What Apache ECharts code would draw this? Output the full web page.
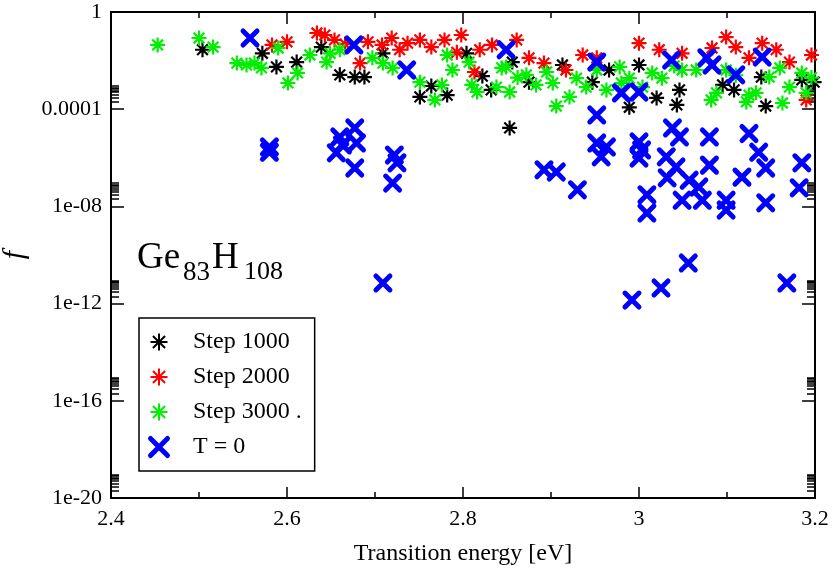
<!DOCTYPE html>
<html>
<head>
<meta charset="utf-8">
<script src="https://cdn.jsdelivr.net/npm/echarts@6/dist/echarts.min.js"></script>
<style>
html, body { margin: 0; padding: 0; background: #fff; }
#chart { width: 833px; height: 573px; }
</style>
</head>
<body>
<div id="chart"></div>
<script>
// transition energies (eV) and oscillator strengths f
var step1000X = [2.504, 2.572, 2.588, 2.611, 2.639, 2.660, 2.677, 2.688, 2.709, 2.751, 2.764, 2.782, 2.804, 2.822, 2.832, 2.853, 2.856, 2.875, 2.913, 2.947, 2.966, 2.989, 3.000, 3.020, 3.046, 3.043, 3.095, 3.108, 3.139, 3.144, 3.185, 3.199];
var step1000F = [2.8e-2, 2.0e-2, 5.5e-3, 8.7e-3, 3.6e-2, 2.6e-3, 2.1e-3, 2.1e-3, 2.0e-2, 3.2e-4, 9.0e-4, 3.8e-4, 2.0e-2, 2.3e-3, 6.2e-4, 1.7e-5, 8.7e-3, 1.3e-3, 6.6e-3, 1.3e-3, 4.1e-3, 1.2e-4, 6.6e-3, 2.9e-4, 6.2e-4, 1.5e-4, 1.0e-3, 6.2e-4, 2.1e-3, 1.35e-4, 1.6e-3, 1.3e-3];

var step2000X = [2.583, 2.600, 2.634, 2.643, 2.654, 2.666, 2.683, 2.692, 2.708, 2.719, 2.728, 2.737, 2.751, 2.764, 2.779, 2.793, 2.798, 2.813, 2.819, 2.833, 2.861, 2.875, 2.892, 2.917, 2.936, 2.952, 3.000, 3.023, 3.049, 3.083, 3.099, 3.110, 3.125, 3.140, 3.156, 3.171, 3.196, 3.190];
var step2000F = [4.4e-2, 5.9e-2, 1.37e-1, 1.13e-1, 7.1e-2, 4.8e-2, 7.9e-3, 5.9e-2, 4.4e-2, 8.5e-2, 2.8e-2, 5.2e-2, 7.1e-2, 3.6e-2, 7.1e-2, 2.2e-2, 1.13e-1, 3.4e-3, 2.8e-2, 4.4e-2, 7.1e-2, 1.3e-2, 7.9e-3, 4.1e-3, 1.7e-2, 1.3e-2, 5.2e-2, 2.8e-2, 2.0e-2, 3.3e-2, 9.3e-2, 3.6e-2, 1.3e-2, 5.2e-2, 2.8e-2, 8.7e-3, 1.7e-2, 2.4e-4];

var step3000X = [2.453, 2.500, 2.516, 2.543, 2.554, 2.563, 2.571, 2.590, 2.601, 2.612, 2.626, 2.645, 2.649, 2.660, 2.697, 2.709, 2.720, 2.751, 2.768, 2.776, 2.782, 2.788, 2.807, 2.810, 2.816, 2.838, 2.844, 2.849, 2.853, 2.872, 2.883, 2.895, 2.902, 2.906, 2.921, 2.929, 2.940, 2.952, 2.963, 2.978, 2.989, 3.004, 3.015, 3.026, 3.049, 3.065, 3.082, 3.088, 3.099, 3.122, 3.125, 3.133, 3.148, 3.163, 3.171, 3.185, 3.190, 3.040, 3.110, 3.160, 3.196, 2.862, 2.980];
var step3000F = [4.4e-2, 8.5e-2, 3.6e-2, 7.9e-3, 6.6e-3, 7.9e-3, 5.0e-3, 3.3e-2, 1.2e-3, 3.1e-3, 1.7e-2, 8.7e-3, 2.0e-2, 2.8e-2, 1.3e-2, 7.9e-3, 5.0e-3, 1.3e-3, 2.4e-4, 1.0e-3, 1.7e-2, 4.1e-3, 8.7e-3, 1.0e-3, 5.1e-4, 8.1e-4, 5.0e-3, 5.5e-3, 5.1e-4, 2.6e-3, 1.0e-3, 3.4e-3, 1.2e-3, 1.35e-4, 3.2e-4, 1.9e-3, 8.1e-4, 4.1e-3, 6.2e-4, 5.5e-3, 1.9e-3, 8.1e-4, 3.1e-3, 1.9e-3, 4.1e-3, 4.1e-3, 2.4e-4, 4.7e-4, 4.1e-3, 2.0e-4, 3.8e-4, 4.7e-4, 2.1e-3, 1.8e-4, 8.1e-4, 3.1e-3, 4.7e-4, 6.0e-3, 2.5e-3, 5.0e-3, 2.0e-3, 2.0e-3, 1.2e-3];

var t0X = [2.558, 2.676, 2.736, 2.849, 2.952, 2.980, 3.000, 3.037, 3.077, 3.083, 3.110, 3.140,
  2.580, 2.580, 2.656, 2.660, 2.663, 2.677, 2.679, 2.677, 2.722, 2.725, 2.720, 2.709,
  2.892, 2.906, 2.930, 2.952, 2.952, 2.963, 2.957, 3.000, 3.003, 3.000, 3.009, 3.009,
  3.038, 3.046, 3.031, 3.042, 3.032, 3.057, 3.068, 3.049, 3.072, 3.080, 3.080, 3.099, 3.099,
  3.125, 3.136, 3.144, 3.117, 3.144, 3.185, 3.182,
  2.992, 3.025, 3.056, 3.168];
var t0F = [8.5e-2, 4.4e-2, 4.1e-3, 2.8e-2, 8.7e-3, 4.7e-4, 5.1e-4, 1.05e-2, 1.3e-2, 6.6e-3, 2.6e-3, 1.4e-2,
  2.8e-6, 1.7e-6, 1.6e-6, 7.2e-6, 3.4e-6, 1.7e-5, 4.1e-6, 3.8e-7, 1.3e-6, 6.2e-7, 9.1e-8, 7.1e-12,
  3.2e-7, 2.6e-7, 4.8e-8, 5.8e-5, 4.1e-6, 2.8e-6, 1.1e-6, 4.5e-6, 2.1e-6, 9.8e-7, 3.0e-8, 5.4e-9,
  1.7e-5, 7.2e-6, 1.1e-6, 4.2e-7, 1.5e-7, 1.2e-7, 6.3e-8, 1.8e-8, 1.8e-8, 7.2e-6, 5.0e-7, 1.8e-8, 7.1e-9,
  1.0e-5, 1.7e-6, 3.8e-7, 1.6e-7, 1.4e-8, 6.2e-7, 5.8e-8,
  1.4e-12, 4.4e-12, 4.7e-11, 7.1e-12];

var seriesNames = ['Step 1000', 'Step 2000', 'Step 3000 .', 'T = 0'];
var seriesColors = ['#000000', '#ff0000', '#00ee00', '#0000ff'];
var yTickValues = [1e-20, 1e-16, 1e-12, 1e-8, 1e-4, 1];

var FONT = "'Liberation Serif', 'Times New Roman', serif";
var STAR = 'path://M7 0L7 14M0 7L14 7M2 2L12 12M2 12L12 2';
var CROSS = 'path://M0 0L10 10M0 10L10 0';

function zip(xs, ys) {
  var out = [];
  for (var i = 0; i < xs.length; i++) out.push([xs[i], ys[i]]);
  return out;
}

function yLabel(v) {
  var e = Math.round(Math.log10(v));
  if (e === 0) return '1';
  if (e === -4) return '0.0001';
  var n = -e;
  return '1e-' + (n < 10 ? '0' + n : n);
}

function starSeries(idx, xs, ys) {
  return {
    name: seriesNames[idx],
    type: 'scatter',
    data: zip(xs, ys),
    symbol: STAR,
    symbolSize: 15,
    itemStyle: { color: 'rgba(0,0,0,0)', borderColor: seriesColors[idx], borderWidth: 2.2, opacity: 1 },
    emphasis: { disabled: true },
    z: 2 + idx
  };
}

// minor ticks (2..9 x 10^n) beside each labelled decade
var minorVals = [];
yTickValues.forEach(function (t) {
  if (t >= 1) return;
  for (var k = 2; k <= 9; k++) minorVals.push(k * t);
});

function tickAxis(pos, vals, len, showLabel) {
  return {
    type: 'log', position: pos, min: 1e-20, max: 1,
    axisLine: { show: true, lineStyle: { color: '#000', width: 2 } },
    axisTick: { show: true, inside: true, length: len, customValues: vals, lineStyle: { color: '#000', width: 1.5 } },
    axisLabel: showLabel ? {
      customValues: vals, formatter: yLabel, color: '#000', fontFamily: FONT, fontSize: 22, margin: 9
    } : { show: false },
    splitLine: { show: false }
  };
}

var chart = echarts.init(document.getElementById('chart'));

var leftMain = tickAxis('left', yTickValues, 13, true);
leftMain.name = 'f';
leftMain.nameLocation = 'middle';
leftMain.nameGap = 72;
leftMain.nameTextStyle = { fontFamily: FONT, fontStyle: 'italic', fontSize: 30, color: '#000' };

var option = {
  animation: false,
  backgroundColor: '#fff',
  grid: { left: 111, right: 18, top: 12, bottom: 75, containLabel: false, outerBoundsMode: 'none' },
  xAxis: [{
    type: 'value', position: 'bottom', min: 2.4, max: 3.2, interval: 0.2,
    name: 'Transition energy [eV]', nameLocation: 'middle', nameGap: 44,
    nameTextStyle: { fontFamily: FONT, fontSize: 24, color: '#000' },
    axisLine: { lineStyle: { color: '#000', width: 2 } },
    axisTick: { inside: true, length: 11, lineStyle: { color: '#000', width: 1.5 } },
    minorTick: { show: true, splitNumber: 2, length: 6, lineStyle: { color: '#000', width: 1.5 } },
    axisLabel: { color: '#000', fontFamily: FONT, fontSize: 22, margin: 10 },
    splitLine: { show: false }
  }, {
    type: 'value', position: 'top', min: 2.4, max: 3.2, interval: 0.2,
    axisLine: { lineStyle: { color: '#000', width: 2 } },
    axisTick: { inside: true, length: 12, lineStyle: { color: '#000', width: 1.5 } },
    minorTick: { show: true, splitNumber: 2, length: 6, lineStyle: { color: '#000', width: 1.5 } },
    axisLabel: { show: false },
    splitLine: { show: false }
  }],
  yAxis: [
    leftMain,
    tickAxis('left', minorVals, 8, false),
    tickAxis('right', yTickValues, 13, false),
    tickAxis('right', minorVals, 8, false)
  ],
  legend: {
    orient: 'vertical', left: 139, top: 318,
    data: [
      { name: seriesNames[0] },
      { name: seriesNames[1] },
      { name: seriesNames[2] },
      { name: seriesNames[3], itemStyle: { borderWidth: 5 } }
    ],
    backgroundColor: '#fff',
    borderColor: '#000', borderWidth: 1.5, borderRadius: 0,
    padding: [12, 13, 12, 9],
    itemWidth: 30, itemHeight: 17, itemGap: 11,
    selectedMode: false,
    textStyle: { fontFamily: FONT, fontSize: 24, color: '#000', lineHeight: 24, padding: [0, 0, 0, 14] }
  },
  graphic: [
    { type: 'text', left: 137, top: 240, style: { text: 'Ge', font: '37px ' + FONT, fill: '#000' } },
    { type: 'text', left: 183, top: 259, style: { text: '83', font: '27px ' + FONT, fill: '#000' } },
    { type: 'text', left: 212, top: 240, style: { text: 'H', font: '37px ' + FONT, fill: '#000' } },
    { type: 'text', left: 244, top: 259, style: { text: '108', font: '26px ' + FONT, fill: '#000' } }
  ],
  series: [
    starSeries(0, step1000X, step1000F),
    starSeries(1, step2000X, step2000F),
    starSeries(2, step3000X, step3000F),
    {
      name: seriesNames[3],
      type: 'scatter',
      data: zip(t0X, t0F),
      symbol: CROSS,
      symbolSize: 14,
      itemStyle: { color: 'rgba(0,0,0,0)', borderColor: seriesColors[3], borderWidth: 5, borderCap: 'round', opacity: 1 },
      emphasis: { disabled: true },
      z: 6
    }
  ]
};

chart.setOption(option);
</script>
</body>
</html>
